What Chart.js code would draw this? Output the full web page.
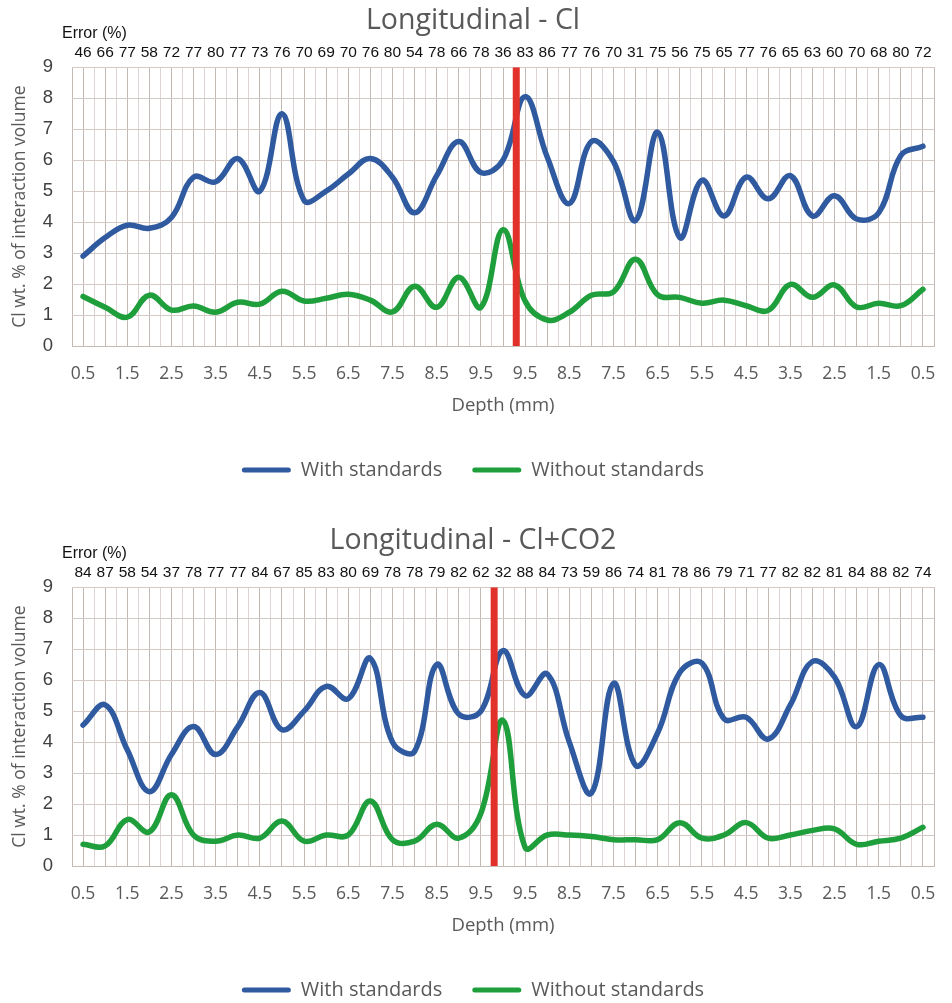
<!DOCTYPE html>
<html>
<head>
<meta charset="utf-8">
<title>Longitudinal - Cl</title>
<script src="https://cdn.jsdelivr.net/npm/chart.js@4.4.1/dist/chart.umd.min.js"></script>
<style>
    html, body { margin: 0; padding: 0; background: #ffffff; overflow: hidden; }
    .caixa { width: 952px; height: 520px; }
    canvas { display: block; }
</style>
</head>
<body>
<div class="caixa"><canvas id="graficoCl" width="952" height="520"></canvas></div>
<div class="caixa"><canvas id="graficoClCO2" width="952" height="520"></canvas></div>
<script>
// profundidade (mm) de cada ponto: ida 0.5 -> 10 e volta 9.5 -> 0.5
var profundidades = ['0.5', '1.0', '1.5', '2.0', '2.5', '3.0', '3.5', '4.0', '4.5', '5.0',
    '5.5', '6.0', '6.5', '7.0', '7.5', '8.0', '8.5', '9.0', '9.5', '10.0',
    '9.5', '9.0', '8.5', '8.0', '7.5', '7.0', '6.5', '6.0', '5.5', '5.0',
    '4.5', '4.0', '3.5', '3.0', '2.5', '2.0', '1.5', '1.0', '0.5'];

// grafico de cima - Cl
var errosCl = [46, 66, 77, 58, 72, 77, 80, 77, 73, 76, 70, 69, 70, 76, 80, 54, 78, 66, 78, 36,
    83, 86, 77, 76, 70, 31, 75, 56, 75, 65, 77, 76, 65, 63, 60, 70, 68, 80, 72];
var comPadroesCl = [2.9, 3.5, 3.9, 3.8, 4.15, 5.45, 5.3, 6.05, 5.0, 7.5, 4.7, 5.0, 5.55, 6.05, 5.45, 4.3, 5.5, 6.6, 5.6, 6.0,
    8.05, 6.1, 4.6, 6.6, 5.95, 4.05, 6.9, 3.5, 5.35, 4.2, 5.45, 4.75, 5.5, 4.2, 4.85, 4.1, 4.3, 6.15, 6.45];
var semPadroesCl = [1.6, 1.25, 0.93, 1.64, 1.16, 1.29, 1.09, 1.41, 1.35, 1.77, 1.45, 1.54, 1.67, 1.48, 1.1, 1.93, 1.25, 2.22, 1.25, 3.75,
    1.45, 0.84, 1.09, 1.64, 1.75, 2.8, 1.65, 1.57, 1.38, 1.48, 1.3, 1.15, 1.99, 1.57, 1.97, 1.26, 1.38, 1.3, 1.83];
var viradaCl = 19.6;

// grafico de baixo - Cl+CO2
var errosClCO2 = [84, 87, 58, 54, 37, 78, 77, 77, 84, 67, 85, 83, 80, 69, 78, 78, 79, 82, 62, 32,
    88, 84, 73, 59, 86, 74, 81, 78, 86, 79, 71, 77, 82, 82, 81, 84, 88, 82, 74];
var comPadroesClCO2 = [4.55, 5.2, 3.75, 2.4, 3.6, 4.5, 3.6, 4.5, 5.6, 4.4, 5.0, 5.8, 5.4, 6.7, 4.0, 3.7, 6.5, 4.9, 5.0, 6.95,
    5.5, 6.2, 4.0, 2.35, 5.9, 3.25, 4.3, 6.25, 6.55, 4.75, 4.8, 4.1, 5.2, 6.6, 6.1, 4.5, 6.5, 4.85, 4.8];
var semPadroesClCO2 = [0.7, 0.65, 1.5, 1.1, 2.3, 1.0, 0.8, 1.0, 0.9, 1.45, 0.8, 1.0, 1.0, 2.1, 0.85, 0.8, 1.35, 0.9, 1.7, 4.7,
    0.6, 1.0, 1.0, 0.95, 0.85, 0.85, 0.85, 1.4, 0.9, 1.0, 1.4, 0.9, 1.0, 1.15, 1.2, 0.7, 0.8, 0.9, 1.25];
var viradaClCO2 = 18.6;

var ticksY = [0, 1, 2, 3, 4, 5, 6, 7, 8, 9];

var corTexto = '#595959';
var fonteExcel = "'Open Sans', sans-serif";
var fonteArial = "'Liberation Sans', Arial, sans-serif";

// escreve "Error (%)" acima dos numeros de erro
var pluginErro = {
    id: 'textoErro',
    afterDraw: function (chart) {
        var ctx = chart.ctx;
        ctx.save();
        ctx.font = "16px " + fonteArial;
        ctx.fillStyle = '#111111';
        ctx.textAlign = 'left';
        ctx.textBaseline = 'middle';
        ctx.fillText('Error (%)', chart.chartArea.left - 10, chart.chartArea.top - 34);
        ctx.restore();
    }
};

function pontos(valores) {
    var lista = [];
    for (var i = 0; i < valores.length; i++) {
        lista.push({ x: i, y: valores[i] });
    }
    return lista;
}

function criarGrafico(idCanvas, titulo, erros, comPadroes, semPadroes, virada) {
    var ctx = document.getElementById(idCanvas);
    var ultimo = profundidades.length - 1;

    return new Chart(ctx, {
        type: 'line',
        data: {
            datasets: [{
                label: 'With standards',
                data: pontos(comPadroes),
                borderColor: '#2f5aa0',
                backgroundColor: '#2f5aa0',
                borderWidth: 5.5,
                tension: 0.4,
                pointRadius: 0,
                borderCapStyle: 'round',
                borderJoinStyle: 'round'
            }, {
                label: 'Without standards',
                data: pontos(semPadroes),
                borderColor: '#1f9e3c',
                backgroundColor: '#1f9e3c',
                borderWidth: 5.5,
                tension: 0.4,
                pointRadius: 0,
                borderCapStyle: 'round',
                borderJoinStyle: 'round'
            }, {
                label: '',
                data: [{ x: virada, y: ticksY[0] }, { x: virada, y: ticksY[ticksY.length - 1] }],
                borderColor: '#e2302a',
                borderWidth: 7,
                pointRadius: 0,
                order: -1
            }]
        },
        options: {
            responsive: false,
            animation: false,
            layout: { padding: { left: 0, right: 6, top: 0, bottom: 30 } },
            plugins: {
                title: {
                    display: true,
                    text: titulo,
                    color: corTexto,
                    font: { family: fonteExcel, size: 28.5, weight: 'normal' },
                    padding: { top: 4, bottom: 0 }
                },
                legend: {
                    position: 'bottom',
                    labels: {
                        color: corTexto,
                        font: { family: fonteExcel, size: 20 },
                        boxWidth: 49,
                        boxHeight: 5,
                        useBorderRadius: true,
                        borderRadius: 2.5,
                        padding: 30,
                        filter: function (item) { return item.text !== ''; },
                        generateLabels: function (chart) {
                            var itens = Chart.defaults.plugins.legend.labels.generateLabels(chart);
                            itens.forEach(function (item) { item.lineWidth = 0; });
                            return itens;
                        }
                    }
                },
                tooltip: { enabled: false }
            },
            scales: {
                x: {
                    type: 'linear',
                    min: -0.5,
                    max: ultimo + 0.5,
                    afterBuildTicks: function (eixo) {
                        var lista = [];
                        for (var v = -0.5; v <= ultimo + 0.5; v += 0.5) lista.push({ value: v });
                        eixo.ticks = lista;
                    },
                    afterFit: function (eixo) { eixo.height = 84; },
                    ticks: {
                        autoSkip: false,
                        maxRotation: 0,
                        minRotation: 0,
                        padding: 18,
                        color: corTexto,
                        font: { family: fonteExcel, size: 17.5 },
                        callback: function (valor) {
                            if (Number.isInteger(valor) && valor % 2 === 0) return profundidades[valor];
                            return '';
                        }
                    },
                    grid: {
                        drawTicks: false,
                        color: function (c) {
                            var v = c.tick ? c.tick.value : 0;
                            if (Number.isInteger(v) || v < 0 || v > ultimo) return '#c4bab5';
                            return '#ddd5d1';
                        }
                    },
                    border: { display: true, color: '#c4bab5' },
                    title: {
                        display: true,
                        text: 'Depth (mm)',
                        color: corTexto,
                        font: { family: fonteExcel, size: 18.5 },
                        padding: { top: 0, bottom: 13 }
                    }
                },
                x2: {
                    type: 'linear',
                    position: 'top',
                    min: -0.5,
                    max: ultimo + 0.5,
                    afterBuildTicks: function (eixo) {
                        var lista = [];
                        for (var i = 0; i <= ultimo; i++) lista.push({ value: i });
                        eixo.ticks = lista;
                    },
                    afterFit: function (eixo) { eixo.height = 29; },
                    ticks: {
                        autoSkip: false,
                        maxRotation: 0,
                        minRotation: 0,
                        padding: 5,
                        color: '#111111',
                        font: { family: fonteArial, size: 15.5 },
                        callback: function (valor) { return String(erros[valor]); }
                    },
                    grid: { display: false, drawTicks: false },
                    border: { display: false }
                },
                y: {
                    min: ticksY[0],
                    max: ticksY[ticksY.length - 1],
                    afterFit: function (eixo) { eixo.width = 72; },
                    ticks: {
                        stepSize: 1,
                        padding: 19,
                        color: '#404040',
                        font: { family: fonteArial, size: 18.5 }
                    },
                    grid: { drawTicks: false, color: '#d3cac6' },
                    border: { display: false },
                    title: {
                        display: true,
                        text: 'Cl wt. % of interaction volume',
                        color: corTexto,
                        font: { family: fonteExcel, size: 17.5 },
                        padding: { top: 10, bottom: 0 }
                    }
                }
            }
        },
        plugins: [pluginErro]
    });
}

var graficoCl = criarGrafico('graficoCl', 'Longitudinal - Cl', errosCl, comPadroesCl, semPadroesCl, viradaCl);
var graficoClCO2 = criarGrafico('graficoClCO2', 'Longitudinal - Cl+CO2', errosClCO2, comPadroesClCO2, semPadroesClCO2, viradaClCO2);
</script>
</body>
</html>
